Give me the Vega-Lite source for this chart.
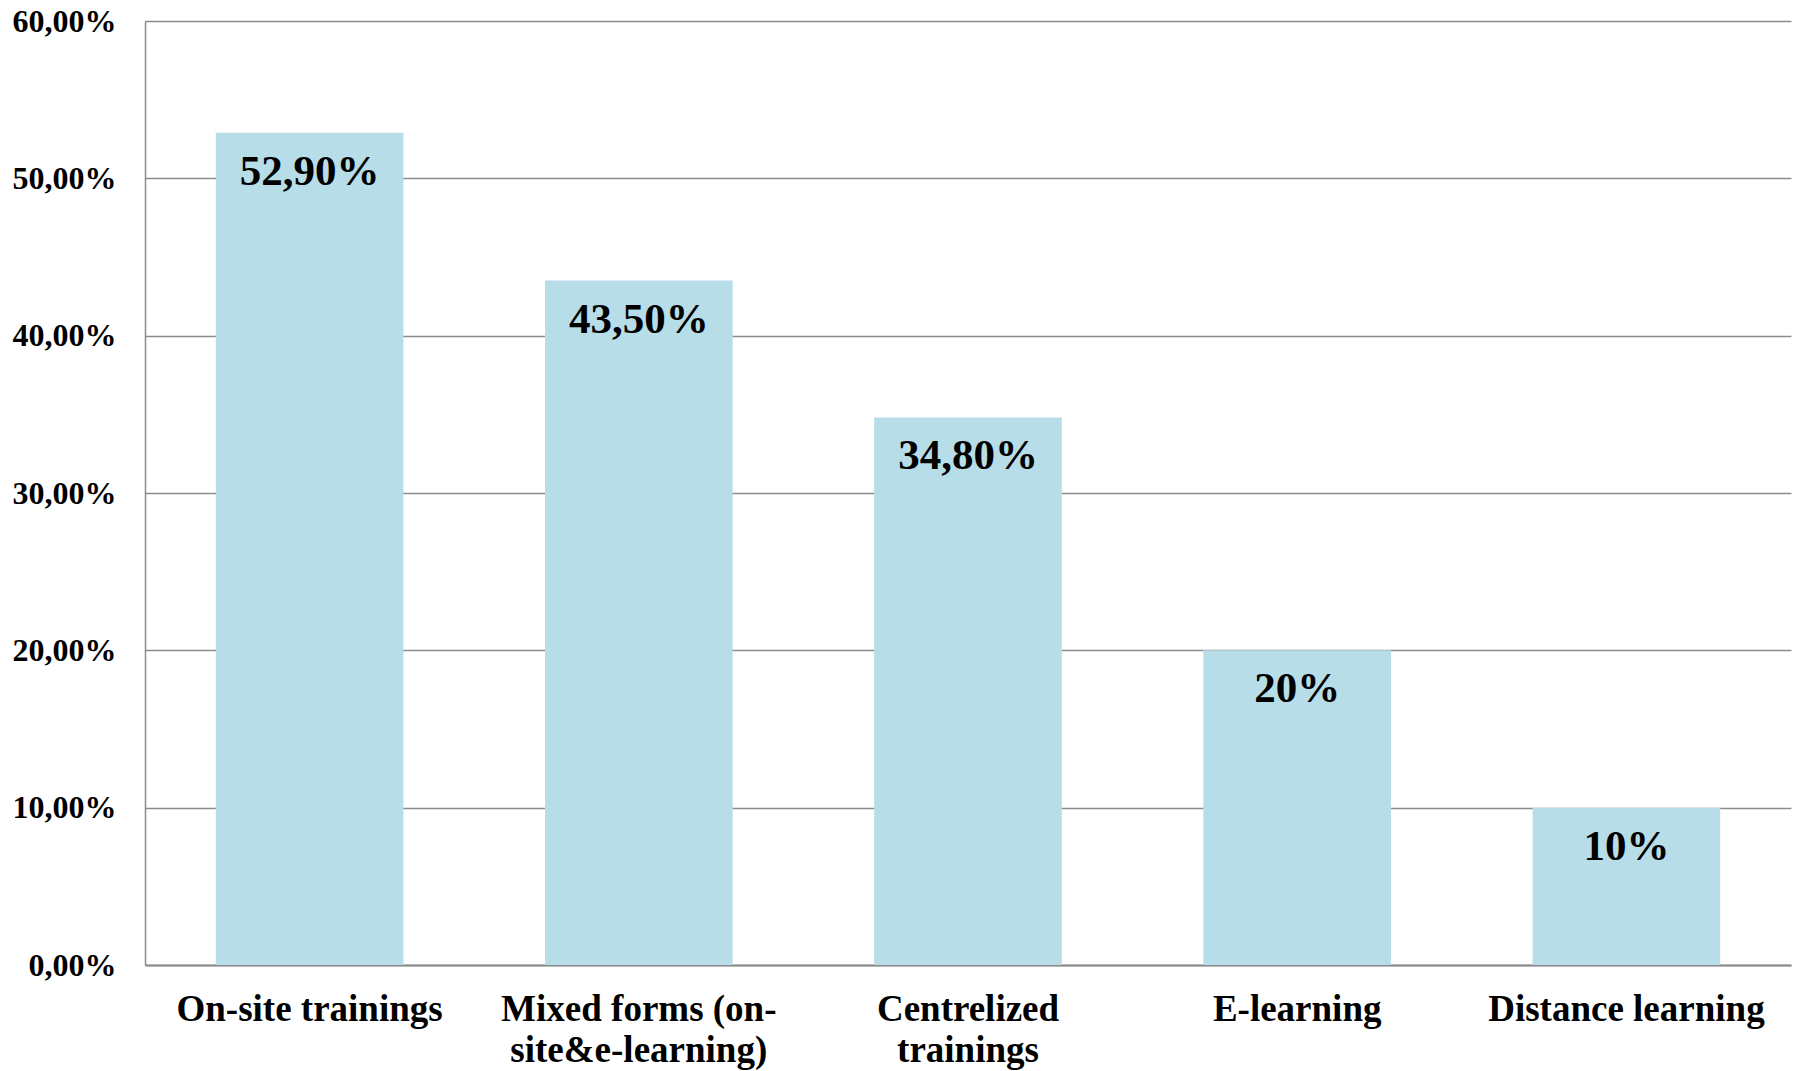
{
  "$schema": "https://vega.github.io/schema/vega-lite/v6.json",
  "width": 1646,
  "height": 944,
  "autosize": {"type": "none"},
  "padding": {"left": 145, "top": 21, "right": 8, "bottom": 106},
  "background": "white",
  "data": {
    "values": [
      {"form": "On-site trainings", "share": 0.529, "label": "52,90%"},
      {"form": "Mixed forms (on-site&e-learning)", "share": 0.435, "label": "43,50%"},
      {"form": "Centrelized trainings", "share": 0.348, "label": "34,80%"},
      {"form": "E-learning", "share": 0.20, "label": "20%"},
      {"form": "Distance learning", "share": 0.10, "label": "10%"}
    ]
  },
  "encoding": {
    "x": {
      "field": "form",
      "type": "nominal",
      "sort": null,
      "title": null,
      "scale": {"paddingInner": 0.43, "paddingOuter": 0.215},
      "axis": {
        "labelAngle": 0,
        "labelFont": "Liberation Serif",
        "labelFontWeight": "bold",
        "labelFontSize": 37,
        "labelColor": "black",
        "labelPadding": 26,
        "labelLineHeight": 41,
        "labelBaseline": "top",
        "labelLimit": 0,
        "labelOverlap": false,
        "ticks": false,
        "domainColor": "#8c8c8c",
        "domainWidth": 2,
        "labelExpr": "datum.label == 'Mixed forms (on-site&e-learning)' ? ['Mixed forms (on-', 'site&e-learning)'] : datum.label == 'Centrelized trainings' ? ['Centrelized', 'trainings'] : datum.label"
      }
    },
    "y": {
      "field": "share",
      "type": "quantitative",
      "title": null,
      "scale": {"domain": [0, 0.6], "nice": false},
      "axis": {
        "values": [0, 0.1, 0.2, 0.3, 0.4, 0.5, 0.6],
        "labelExpr": "replace(format(datum.value, '.2%'), '.', ',')",
        "labelFont": "Liberation Serif",
        "labelFontWeight": "bold",
        "labelFontSize": 32,
        "labelColor": "black",
        "labelPadding": 29,
        "ticks": false,
        "domainColor": "#8c8c8c",
        "domainWidth": 1.5,
        "gridColor": "#8c8c8c",
        "gridWidth": 1.5,
        "gridOpacity": 1
      }
    }
  },
  "layer": [
    {"mark": {"type": "bar", "color": "#b7dde8"}},
    {
      "mark": {
        "type": "text",
        "font": "Liberation Serif",
        "fontWeight": "bold",
        "fontSize": 43,
        "color": "black",
        "baseline": "alphabetic",
        "dy": 52
      },
      "encoding": {"text": {"field": "label"}}
    }
  ],
  "config": {"view": {"stroke": null}}
}
